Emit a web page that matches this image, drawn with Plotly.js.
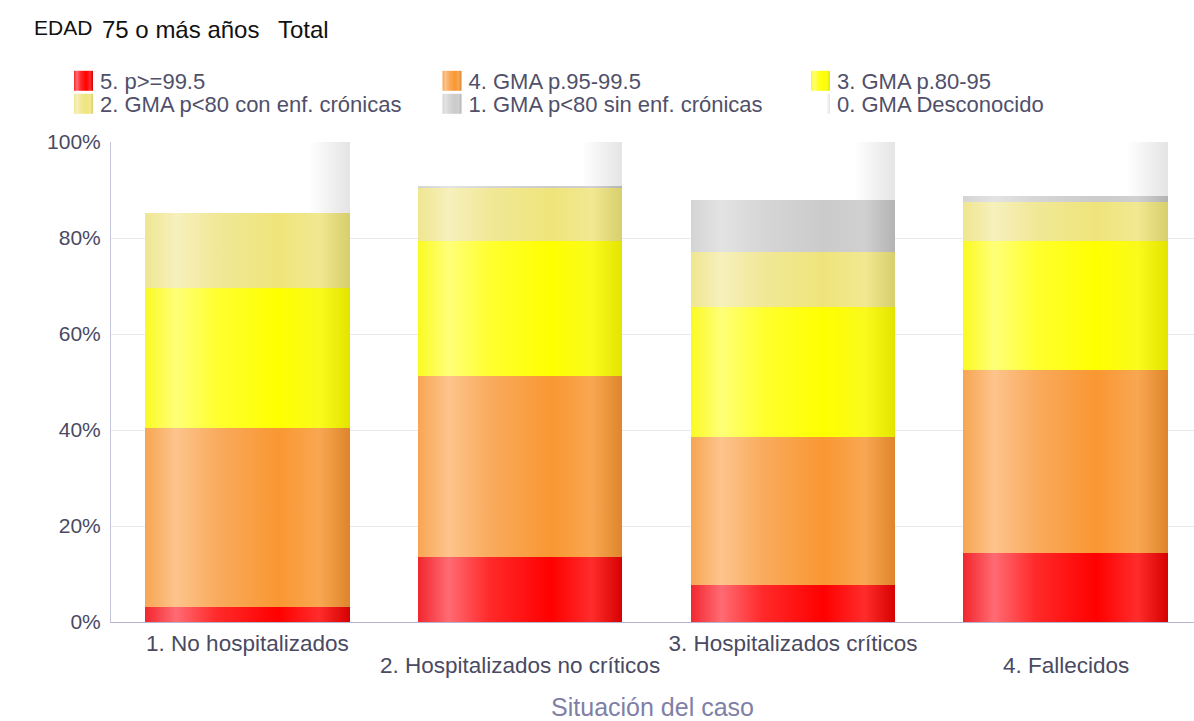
<!DOCTYPE html>
<html>
<head>
<meta charset="utf-8">
<script src="https://cdn.plot.ly/plotly-3.0.1.min.js"></script>
<style>
html,body{margin:0;padding:0;background:#fff;}
#chart{width:1194px;height:721px;}
</style>
</head>
<body>
<div id="chart"></div>
<script>
// ---- data ----
const categories = ["1. No hospitalizados", "2. Hospitalizados no críticos", "3. Hospitalizados críticos", "4. Fallecidos"];
const seriesNames = ["5. p>=99.5", "4. GMA p.95-99.5", "3. GMA p.80-95", "2. GMA p<80 con enf. crónicas", "1. GMA p<80 sin enf. crónicas", "0. GMA Desconocido"];
const s5 = [3.1, 13.5, 7.7, 14.4];
const s4 = [37.3, 37.7, 30.8, 38.1];
const s3 = [29.2, 28.2, 27.1, 26.9];
const s2 = [15.6, 11.1, 11.5, 8.2];
const s1 = [0.0, 0.3, 10.9, 1.2];
const s0 = [14.8, 9.2, 12.0, 11.2];
const seriesValues = [s5, s4, s3, s2, s1, s0];
const yTickVals = [0, 20, 40, 60, 80, 100];
const yTickText = ["0%", "20%", "40%", "60%", "80%", "100%"];
const titleParts = ["EDAD", "75 o más años", "Total"];
const xAxisTitle = "Situación del caso";

// ---- styles ----
const baseColors = ["#ff0000", "#f99732", "#ffff00", "#efe47a", "#cbcbcb", "#ffffff"];
const gradStops = [
  [[0,"#f2262e"],[0.15,"#ff6b73"],[0.35,"#ff2a2a"],[0.65,"#ff0000"],[0.85,"#ff2c2c"],[1,"#d60000"]],
  [[0,"#f7a552"],[0.15,"#fdc48c"],[0.35,"#f9ab5e"],[0.65,"#f99732"],[0.85,"#f9a752"],[1,"#df852b"]],
  [[0,"#fafa22"],[0.15,"#ffff78"],[0.35,"#ffff30"],[0.65,"#ffff00"],[0.85,"#fafa1c"],[1,"#e4e400"]],
  [[0,"#efe690"],[0.15,"#f6f0bc"],[0.35,"#f1e898"],[0.65,"#efe47a"],[0.85,"#f1e892"],[1,"#d7ce6c"]],
  [[0,"#d4d4d4"],[0.15,"#e3e3e3"],[0.35,"#d6d6d6"],[0.65,"#cbcbcb"],[0.85,"#d0d0d0"],[1,"#b3b3b3"]],
  [[0,"#ffffff"],[0.8,"#ffffff"],[1,"#e4e4e4"]]
];

const FONT = "Liberation Sans, Arial, sans-serif";
const TICKCOLOR = "#4a4a62";
const W = 1194, H = 721, ML = 111, MR = 0, MT = 142, MB = 99;
const PW = W - ML - MR, PH = H - MT - MB;
const px = v => (v - ML) / PW;
const py = v => (H - MB - v) / PH;
const xRange = [-0.5, 3.47];

const traces = seriesValues.map((vals, i) => ({
  type: "bar",
  name: seriesNames[i],
  x: categories,
  y: vals,
  width: 0.75,
  marker: {color: baseColors[i], line: {width: 0}},
  hoverinfo: "name+y"
}));

// staggered labels for even categories (second row)
const evenLabelAnns = [1, 3].map(i => ({
  text: categories[i], xref: "x", yref: "paper", x: categories[i], y: py(665),
  xanchor: "center", yanchor: "middle", showarrow: false,
  font: {family: FONT, size: 22.5, color: TICKCOLOR}
}));

const layout = {
  width: W, height: H,
  margin: {l: ML, r: MR, t: MT, b: MB, pad: 0},
  barmode: "stack",
  paper_bgcolor: "#ffffff",
  plot_bgcolor: "#ffffff",
  font: {family: FONT, size: 21, color: TICKCOLOR},
  showlegend: true,
  legend: {
    orientation: "h",
    x: px(60), y: py(60), xanchor: "left", yanchor: "top",
    entrywidth: 323.5, entrywidthmode: "pixels",
    font: {family: FONT, size: 22, color: "#50506a"},
    traceorder: "normal", itemclick: false, itemdoubleclick: false,
    bgcolor: "rgba(0,0,0,0)"
  },
  xaxis: {
    type: "category",
    range: xRange,
    tickmode: "array",
    tickvals: [categories[0], categories[2]],
    ticktext: [categories[0], categories[2]],
    ticklabelstandoff: 1,
    showgrid: false,
    showline: true, linecolor: "#b4b4d0", linewidth: 1,
    zeroline: false, ticks: "",
    tickfont: {family: FONT, size: 22.5, color: TICKCOLOR},
    title: {text: xAxisTitle, standoff: 44, font: {family: FONT, size: 25, color: "#8080a6"}},
    automargin: false, fixedrange: true
  },
  yaxis: {
    range: [0, 100],
    tickmode: "array",
    tickvals: yTickVals,
    ticktext: yTickText,
    ticklabelstandoff: 5,
    showgrid: true, gridcolor: "#e8e8ee", gridwidth: 1,
    showline: true, linecolor: "#c4c4da", linewidth: 1,
    zeroline: false, ticks: "",
    tickfont: {family: FONT, size: 21, color: TICKCOLOR},
    automargin: false, fixedrange: true
  },
  annotations: [
    {text: titleParts[0], xref: "paper", yref: "paper", x: px(32), y: py(27), xanchor: "left", yanchor: "middle", showarrow: false, font: {family: FONT, size: 21, color: "#111111"}},
    {text: titleParts[1], xref: "paper", yref: "paper", x: px(100), y: py(29), xanchor: "left", yanchor: "middle", showarrow: false, font: {family: FONT, size: 24, color: "#111111"}},
    {text: titleParts[2], xref: "paper", yref: "paper", x: px(276), y: py(29), xanchor: "left", yanchor: "middle", showarrow: false, font: {family: FONT, size: 24, color: "#111111"}}
  ].concat(evenLabelAnns)
};

function applyGradients(gd) {
  const svg = gd.querySelector("svg.main-svg");
  if (!svg) return;
  const NS = "http://www.w3.org/2000/svg";
  let defs = svg.querySelector("defs");
  if (!defs) { defs = document.createElementNS(NS, "defs"); svg.insertBefore(defs, svg.firstChild); }
  gradStops.forEach((stops, i) => {
    const lg = document.createElementNS(NS, "linearGradient");
    lg.setAttribute("id", "barGrad" + i);
    lg.setAttribute("x1", "0"); lg.setAttribute("y1", "0");
    lg.setAttribute("x2", "1"); lg.setAttribute("y2", "0");
    stops.forEach(s => {
      const st = document.createElementNS(NS, "stop");
      st.setAttribute("offset", s[0]);
      st.setAttribute("stop-color", s[1]);
      lg.appendChild(st);
    });
    defs.appendChild(lg);
  });
  gd.querySelectorAll(".barlayer .trace.bars").forEach((tr, i) => {
    tr.querySelectorAll("path").forEach(p => { p.style.fill = "url(#barGrad" + i + ")"; });
  });
  const items = Array.from(gd.querySelectorAll(".legend .traces"));
  const parsed = items.map(el => {
    const m = /translate\(\s*([-\d.]+)[ ,]+([-\d.]+)\s*\)/.exec(el.getAttribute("transform") || "");
    return m ? [parseFloat(m[1]), parseFloat(m[2])] : [0, 0];
  });
  const rows = Array.from(new Set(parsed.map(p => p[1]))).sort((a, b) => a - b);
  items.forEach((el, i) => {
    const r = rows.indexOf(parsed[i][1]);
    el.setAttribute("transform", "translate(" + parsed[i][0] + "," + (rows[0] + r * 23) + ")");
    el.querySelectorAll(".legendpoints path").forEach(p => {
      p.setAttribute("d", "M-6,-10H13V10H-6Z");
      p.style.fill = "url(#barGrad" + i + ")";
      p.style.stroke = "none";
      p.style.strokeWidth = "0";
    });
  });
}

Plotly.newPlot("chart", traces, layout, {displayModeBar: false, staticPlot: true}).then(applyGradients);
</script>
</body>
</html>
